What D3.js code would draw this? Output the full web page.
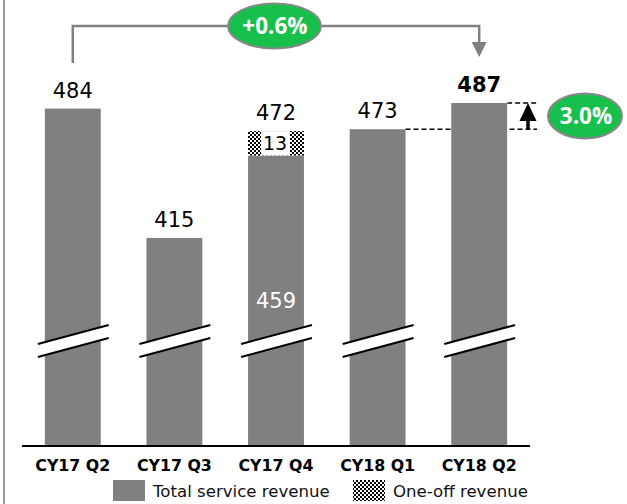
<!DOCTYPE html>
<html><head><meta charset="utf-8">
<script src="https://cdn.jsdelivr.net/npm/d3@7"></script>
<style>html,body{margin:0;padding:0;background:#fff;}svg{display:block;}</style>
</head><body>
<svg id="c" width="627" height="504"></svg>
<script>
const categories = ["CY17 Q2","CY17 Q3","CY17 Q4","CY18 Q1","CY18 Q2"];
const totalRevenue = [484, 415, 459, 473, 487];
const oneOffRevenue = [0, 0, 13, 0, 0];
const totalLabels = ["484","415","472","473","487"];
const insideLabels = ["","","459","",""];
const growthYoY = "+0.6%";
const growthOneOff = "3.0%";
const legendLabels = ["Total service revenue","One-off revenue"];
const axisBase = 304; // truncated axis base value

const svg = d3.select("#c");
const W = 627, H = 504;
const GRAY = "#808080", GREEN = "#16c04b";

const defs = svg.append("defs");
const pat = defs.append("pattern").attr("id","chk").attr("patternUnits","userSpaceOnUse")
  .attr("width",4).attr("height",4);
pat.append("rect").attr("width",4).attr("height",4).attr("fill","#fff");
pat.append("rect").attr("width",2).attr("height",2).attr("fill","#000");
pat.append("rect").attr("x",2).attr("y",2).attr("width",2).attr("height",2).attr("fill","#000");

// left border
svg.append("line").attr("x1",4).attr("x2",4).attr("y1",0).attr("y2",H)
  .attr("stroke","#999").attr("stroke-width",2);

const x = d3.scaleBand().domain(categories).range([22,530]).paddingInner(0.45).paddingOuter(0.225);
const y = d3.scaleLinear().domain([axisBase, 487]).range([446, 103]);
const bw = x.bandwidth();

// dashed reference lines (behind bars)
const i4 = 3, i5 = 4;
svg.append("line").attr("x1", x(categories[i4])+bw).attr("x2",537)
  .attr("y1", y(totalRevenue[i4])).attr("y2", y(totalRevenue[i4]))
  .attr("stroke","#000").attr("stroke-width",1.3).attr("stroke-dasharray","5,3");
svg.append("line").attr("x1", x(categories[i5])+bw).attr("x2",538)
  .attr("y1", y(totalRevenue[i5])).attr("y2", y(totalRevenue[i5]))
  .attr("stroke","#000").attr("stroke-width",1.3).attr("stroke-dasharray","5,3");

// bars
svg.selectAll("rect.bar").data(categories).join("rect").attr("class","bar")
  .attr("x", d => x(d)).attr("width", bw)
  .attr("y", (d,i) => y(totalRevenue[i]))
  .attr("height", (d,i) => y(axisBase) - y(totalRevenue[i]))
  .attr("fill", GRAY);

// one-off stacked segment
categories.forEach((c,i) => {
  if (!oneOffRevenue[i]) return;
  const top = y(totalRevenue[i] + oneOffRevenue[i]), bot = y(totalRevenue[i]);
  svg.append("rect").attr("x", x(c)).attr("width", bw).attr("y", top).attr("height", bot-top)
    .attr("fill","url(#chk)");
  svg.append("rect").attr("x", x(c)+13).attr("width", bw-27).attr("y", top).attr("height", bot-top)
    .attr("fill","#fff");
  svg.append("text").attr("x", x(c)+bw/2 - 1).attr("y", (top+bot)/2 + 7)
    .attr("text-anchor","middle").attr("font-family","DejaVu Sans").attr("font-size",19)
    .attr("fill","#000").text(oneOffRevenue[i]);
});

// break marks
categories.forEach(c => {
  const x0 = x(c) - 7, x1 = x(c) + bw + 8;
  const yl = 344, yr = 325, g = 13;
  svg.append("polygon").attr("points", `${x0},${yl} ${x1},${yr} ${x1},${yr+g} ${x0},${yl+g}`)
    .attr("fill","#fff");
  svg.append("line").attr("x1",x0).attr("y1",yl).attr("x2",x1).attr("y2",yr)
    .attr("stroke","#000").attr("stroke-width",2);
  svg.append("line").attr("x1",x0).attr("y1",yl+g).attr("x2",x1).attr("y2",yr+g)
    .attr("stroke","#000").attr("stroke-width",2);
});

// value labels
categories.forEach((c,i) => {
  const last = i === categories.length-1;
  svg.append("text").attr("x", x(c)+bw/2).attr("y", y(totalRevenue[i]+oneOffRevenue[i]) - 11)
    .attr("text-anchor","middle").attr("font-family","DejaVu Sans")
    .attr("font-size",21).attr("font-weight", last ? "bold" : "normal")
    .attr("fill","#000").text(totalLabels[i]);
  if (insideLabels[i]) {
    svg.append("text").attr("x", x(c)+bw/2).attr("y", 308)
      .attr("text-anchor","middle").attr("font-family","DejaVu Sans")
      .attr("font-size",21).attr("fill","#fff").text(insideLabels[i]);
  }
});

// axis
const ax = svg.append("g").attr("transform",`translate(0,${y(axisBase)})`)
  .call(d3.axisBottom(x).tickSize(0).tickPadding(14));
ax.select(".domain").attr("stroke","#000").attr("stroke-width",2).attr("d","M22,0H530");
ax.selectAll("text").attr("font-family","DejaVu Sans").attr("font-weight","bold")
  .attr("font-size",15.8).attr("fill","#000");

// top bracket
const cx1 = x(categories[0]) + bw/2, cx5 = x(categories[4]) + bw/2;
svg.append("path").attr("d", `M${cx1},63V26H${cx5}V44`).attr("fill","none")
  .attr("stroke",GRAY).attr("stroke-width",2.5);
svg.append("path").attr("d", `M${cx5-7.5},42L${cx5+7.5},42L${cx5},57Z`).attr("fill",GRAY);
svg.append("ellipse").attr("cx",274.5).attr("cy",26).attr("rx",46.5).attr("ry",22.5)
  .attr("fill",GREEN).attr("stroke","#888").attr("stroke-width",2);
svg.append("text").attr("x",275).attr("y",34).attr("text-anchor","middle")
  .attr("font-family","Open Sans").attr("font-weight","bold").attr("font-size",22.5)
  .attr("fill","#fff").text(growthYoY);

// right arrow + badge
const ay1 = y(totalRevenue[i4]), ay0 = y(totalRevenue[i5]);
svg.append("line").attr("x1",528).attr("x2",528).attr("y1",ay1).attr("y2",ay0+14)
  .attr("stroke","#000").attr("stroke-width",3.5);
svg.append("path").attr("d",`M${528-8.5},${ay0+18}L${528+8.5},${ay0+18}L528,${ay0}Z`).attr("fill","#000");
svg.append("ellipse").attr("cx",585).attr("cy",116).attr("rx",37).attr("ry",22.5)
  .attr("fill",GREEN).attr("stroke","#888").attr("stroke-width",2);
svg.append("text").attr("x",586).attr("y",124).attr("text-anchor","middle")
  .attr("font-family","Open Sans").attr("font-weight","bold").attr("font-size",22.5)
  .attr("fill","#fff").text(growthOneOff);

// legend
const lg = svg.append("g");
lg.append("rect").attr("x",113).attr("y",480).attr("width",32).attr("height",21).attr("fill",GRAY);
lg.append("text").attr("x",153).attr("y",497).attr("font-family","DejaVu Sans").attr("font-size",16.6)
  .attr("fill","#111").text(legendLabels[0]);
lg.append("rect").attr("x",353).attr("y",480).attr("width",32).attr("height",21).attr("fill","url(#chk)");
lg.append("text").attr("x",393).attr("y",497).attr("font-family","DejaVu Sans").attr("font-size",16.6)
  .attr("fill","#111").text(legendLabels[1]);
</script>
</body></html>
